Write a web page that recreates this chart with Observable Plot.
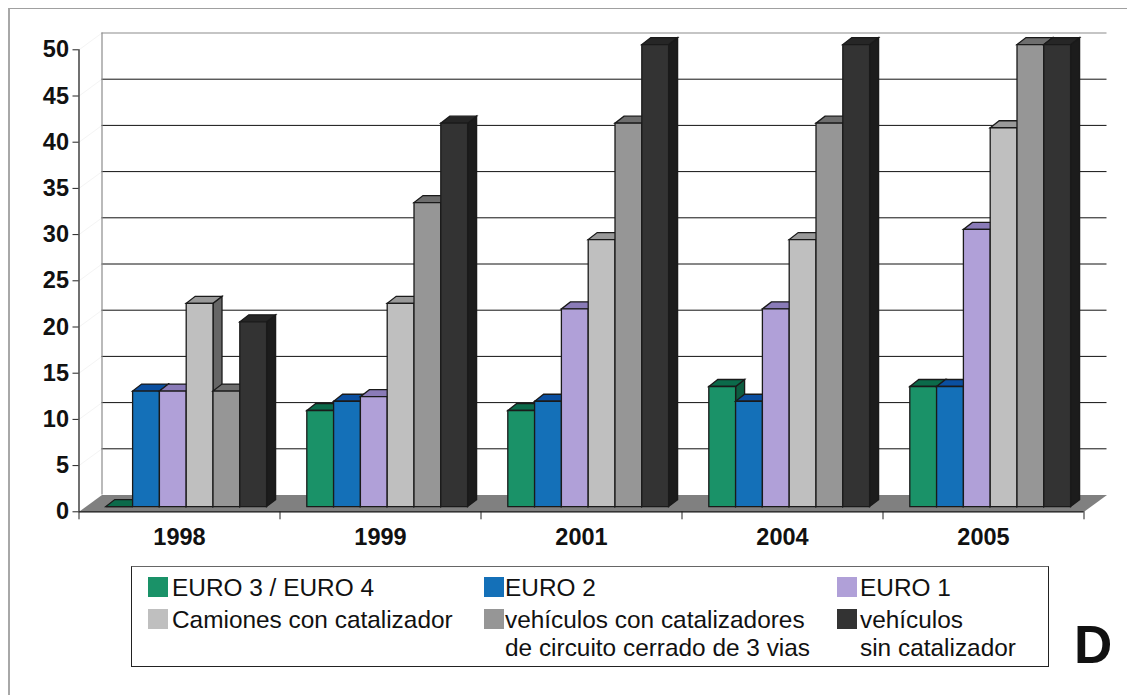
<!DOCTYPE html>
<html lang="es">
<head>
<meta charset="utf-8">
<style>
  html, body { margin: 0; padding: 0; background: #fff; }
  #page { position: relative; width: 1127px; height: 695px; overflow: hidden; font-family: "Liberation Sans", Arial, sans-serif; color: #111; }
  #frame { position: absolute; left: 8px; top: 8px; right: 0; bottom: 0; border-left: 2px solid #a8a8a8; border-top: 1.5px solid #a0a0a0; }
  #chart { position: absolute; left: 0; top: 0; }
  #legend { position: absolute; left: 131px; top: 566px; width: 916px; height: 99px; border: 1px solid #222; border-top-color: #666; box-sizing: content-box; font-size: 24.4px; }
  #legend i { position: absolute; width: 20px; height: 20px; }
  #legend span { position: absolute; white-space: pre; line-height: 28px; }
  #letter { position: absolute; left: 1074px; top: 615px; font-size: 53px; font-weight: 700; line-height: 60px; }
</style>
<script src="https://cdn.jsdelivr.net/npm/d3@7"></script>
<script src="https://cdn.jsdelivr.net/npm/@observablehq/plot@0.6"></script>
</head>
<body>
<div id="page">
  <div id="frame"></div>
  <div id="chart"></div>
  <div id="legend"></div>
  <div id="letter">D</div>
</div>
<script>
// Years and emission-class series, one list of values per class
const years = ["1998", "1999", "2001", "2004", "2005"];
const euro34 = [0, 10.4, 10.4, 13, 13];
const euro2 = [12.5, 11.4, 11.4, 11.4, 13];
const euro1 = [12.5, 11.9, 21.4, 21.4, 30];
const camiones = [22, 22, 28.9, 28.9, 41];
const cerrado = [12.5, 32.9, 41.5, 41.5, 50];
const sinCatalizador = [20, 41.5, 50, 50, 50];

const seriesValues = [euro34, euro2, euro1, camiones, cerrado, sinCatalizador];
const frontColors = ["#1a9268", "#1470b8", "#b0a0d8", "#bfbfbf", "#969696", "#333333"];
const topColors = ["#0b6a4a", "#0a4fa0", "#8a7bb8", "#999999", "#6e6e6e", "#262626"];
const sideColors = ["#0d5c40", "#0a3f80", "#6f6296", "#666666", "#4b4b4b", "#1c1c1c"];

// Oblique projection: offsets expressed in scale units
const groupPx = 201, unitPx = 9.24;
const wallDx = 23 / groupPx, wallDy = 16.8 / unitPx;   // floor depth
const liftDx = 6.7 / groupPx, liftDy = 5.2 / unitPx;   // bar set back from the floor edge
const barDx = 9 / groupPx, barDy = 7 / unitPx;         // bar depth
const barW = 0.8 / 6, gapW = 0.1;

// Each bar is three faces, painted left to right so neighbours overlap correctly
const faces = [];
function face(id, color, pts) {
  pts.forEach(([x, y]) => faces.push({id, color, x, y}));
}
years.forEach((_, i) => {
  seriesValues.forEach((vals, j) => {
    const x1 = i + gapW + liftDx + j * barW, x2 = x1 + barW;
    const y1 = liftDy, y2 = vals[i] + liftDy;
    face(`s${i}-${j}`, sideColors[j], [[x2, y1], [x2 + barDx, y1 + barDy], [x2 + barDx, y2 + barDy], [x2, y2]]);
    face(`t${i}-${j}`, topColors[j], [[x1, y2], [x2, y2], [x2 + barDx, y2 + barDy], [x1 + barDx, y2 + barDy]]);
    face(`f${i}-${j}`, frontColors[j], [[x1, y1], [x2, y1], [x2, y2], [x1, y2]]);
  });
});

const floor = [
  {x: 0, y: 0}, {x: wallDx, y: wallDy}, {x: 5 + wallDx, y: wallDy}, {x: 5, y: 0}
];
const gridValues = [5, 10, 15, 20, 25, 30, 35, 40, 45];
const yTicks = [0, ...gridValues, 50];
const groupEdges = [0, 1, 2, 3, 4, 5];
const groupCentres = years.map((_, i) => i + 0.5);

const plot = Plot.plot({
  width: 1127,
  height: 560,
  marginLeft: 78.5,
  marginRight: 43.5,
  marginTop: 49.3,
  marginBottom: 48.7,
  style: {background: "transparent", fontFamily: "'Liberation Sans', Arial, sans-serif", overflow: "visible"},
  x: {domain: [0, 5], axis: null},
  y: {domain: [0, 50], axis: null},
  color: {type: "identity"},
  marks: [
    Plot.link(yTicks.slice(1), {x1: 0, y1: d => d, x2: wallDx, y2: d => d + wallDy, stroke: "#f4f4f4", strokeWidth: 1}),
    Plot.line(floor, {x: "x", y: "y", fill: "#808080", stroke: "none", curve: "linear"}),
    Plot.ruleY(gridValues, {y: d => d + wallDy, x1: wallDx, x2: 5 + wallDx, stroke: "#111", strokeWidth: 1}),
    Plot.ruleY([50], {y: d => d + wallDy, x1: wallDx, x2: 5 + wallDx, stroke: "#8c8c8c", strokeWidth: 1.2}),
    Plot.ruleX([wallDx], {y1: wallDy, y2: 50 + wallDy, stroke: "#8c8c8c", strokeWidth: 1.2}),
    Plot.line(faces, {x: "x", y: "y", z: "id", fill: "color", stroke: "#1a1a1a", strokeWidth: 1.3, strokeOpacity: 1, strokeLinejoin: "miter", strokeMiterlimit: 4, curve: "linear-closed"}),
    Plot.ruleY([0], {stroke: "#111", strokeWidth: 1.3}),
    Plot.ruleX([0], {y1: 0, y2: 50, stroke: "#111", strokeWidth: 1.2}),
    Plot.axisY({
      ticks: yTicks, tickSize: 6, tickPadding: 4, label: null, stroke: "#222",
      fontSize: 23.5, fontWeight: 700, fill: "#111", tickFormat: d => String(d)
    }),
    Plot.axisX({ticks: groupEdges, tickSize: 8, tickFormat: () => "", label: null, stroke: "#222"}),
    Plot.axisX({
      ticks: groupCentres, tickSize: 0, tickPadding: 17, label: null,
      fontSize: 23.5, fontWeight: 700, fill: "#111", tickFormat: d => years[Math.floor(d)]
    })
  ]
});
document.getElementById("chart").append(plot);

// Legend box: swatches and labels laid out in three columns
const legendEntries = [
  {color: frontColors[0], sx: 16, sy: 10, tx: 40, ty: 7, lines: ["EURO 3 / EURO 4"]},
  {color: frontColors[1], sx: 352, sy: 10, tx: 373, ty: 7, lines: ["EURO 2"]},
  {color: frontColors[2], sx: 705, sy: 10, tx: 728, ty: 7, lines: ["EURO 1"]},
  {color: frontColors[3], sx: 16, sy: 42, tx: 40, ty: 39, lines: ["Camiones con catalizador"]},
  {color: frontColors[4], sx: 352, sy: 42, tx: 373, ty: 39, lines: ["vehículos con catalizadores", "de circuito cerrado de 3 vias"]},
  {color: frontColors[5], sx: 705, sy: 42, tx: 728, ty: 39, lines: ["vehículos", "sin catalizador"]}
];
const legend = document.getElementById("legend");
for (const e of legendEntries) {
  const sw = document.createElement("i");
  sw.style.cssText = `left:${e.sx}px;top:${e.sy}px;background:${e.color}`;
  legend.append(sw);
  e.lines.forEach((line, k) => {
    const t = document.createElement("span");
    t.textContent = line;
    t.style.cssText = `left:${e.tx}px;top:${e.ty + k * 28}px`;
    legend.append(t);
  });
}
</script>
</body>
</html>
